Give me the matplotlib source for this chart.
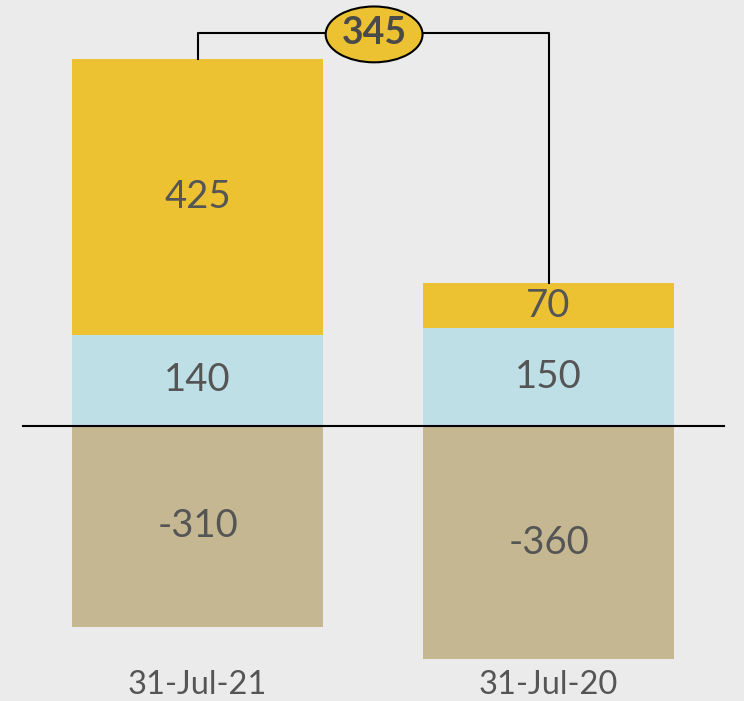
import matplotlib.pyplot as plt
from matplotlib.patches import Ellipse

plt.rcParams['font.family'] = ['Lato', 'DejaVu Sans']

dates = ['31-Jul-21', '31-Jul-20']
blue_vals = [140, 150]
yellow_vals = [425, 70]
neg_vals = [-310, -360]
diff_label = '345'

bg = '#ebebeb'
c_yellow = '#ecc233'
c_blue = '#bedfe5'
c_tan = '#c4b791'
c_text = '#555555'

fig = plt.figure(figsize=(7.44, 7.01), dpi=100, facecolor=bg)
ax = fig.add_axes([0, 0, 1, 1])
ax.set_facecolor(bg)

x = [0, 1]
w = 0.715
ax.bar(x, blue_vals, w, color=c_blue)
ax.bar(x, yellow_vals, w, bottom=blue_vals, color=c_yellow)
ax.bar(x, neg_vals, w, color=c_tan)

for i in x:
    ax.text(i, blue_vals[i] / 2, str(blue_vals[i]), ha='center', va='center',
            fontsize=27.5, color=c_text)
    ax.text(i, blue_vals[i] + yellow_vals[i] / 2, str(yellow_vals[i]),
            ha='center', va='center', fontsize=27.5, color=c_text)
    ax.text(i, neg_vals[i] / 2, str(neg_vals[i]), ha='center', va='center',
            fontsize=27.5, color=c_text)
    ax.text(i, -399, dates[i], ha='center', va='center', fontsize=23.5, color=c_text)

ax.plot([-0.497, 1.5], [0, 0], color='black', lw=1.5)

# bracket between the two totals
tops = [b + y for b, y in zip(blue_vals, yellow_vals)]
ytop = 605
ax.plot([0, 0, 1, 1], [tops[0], ytop, ytop, tops[1]], color='black', lw=1.5)
ax.add_patch(Ellipse((0.503, ytop - 2), 0.276, 86, facecolor=c_yellow,
                     edgecolor='black', lw=1.5, zorder=3))
ax.text(0.503, ytop, diff_label, ha='center', va='center', fontsize=27,
        fontweight='bold', color='#4a4a4a', zorder=4)

ax.set_xlim(-0.563, 1.557)
ax.set_ylim(-424, 656)
ax.axis('off')

fig.savefig('out.png', dpi=100, facecolor=bg)
